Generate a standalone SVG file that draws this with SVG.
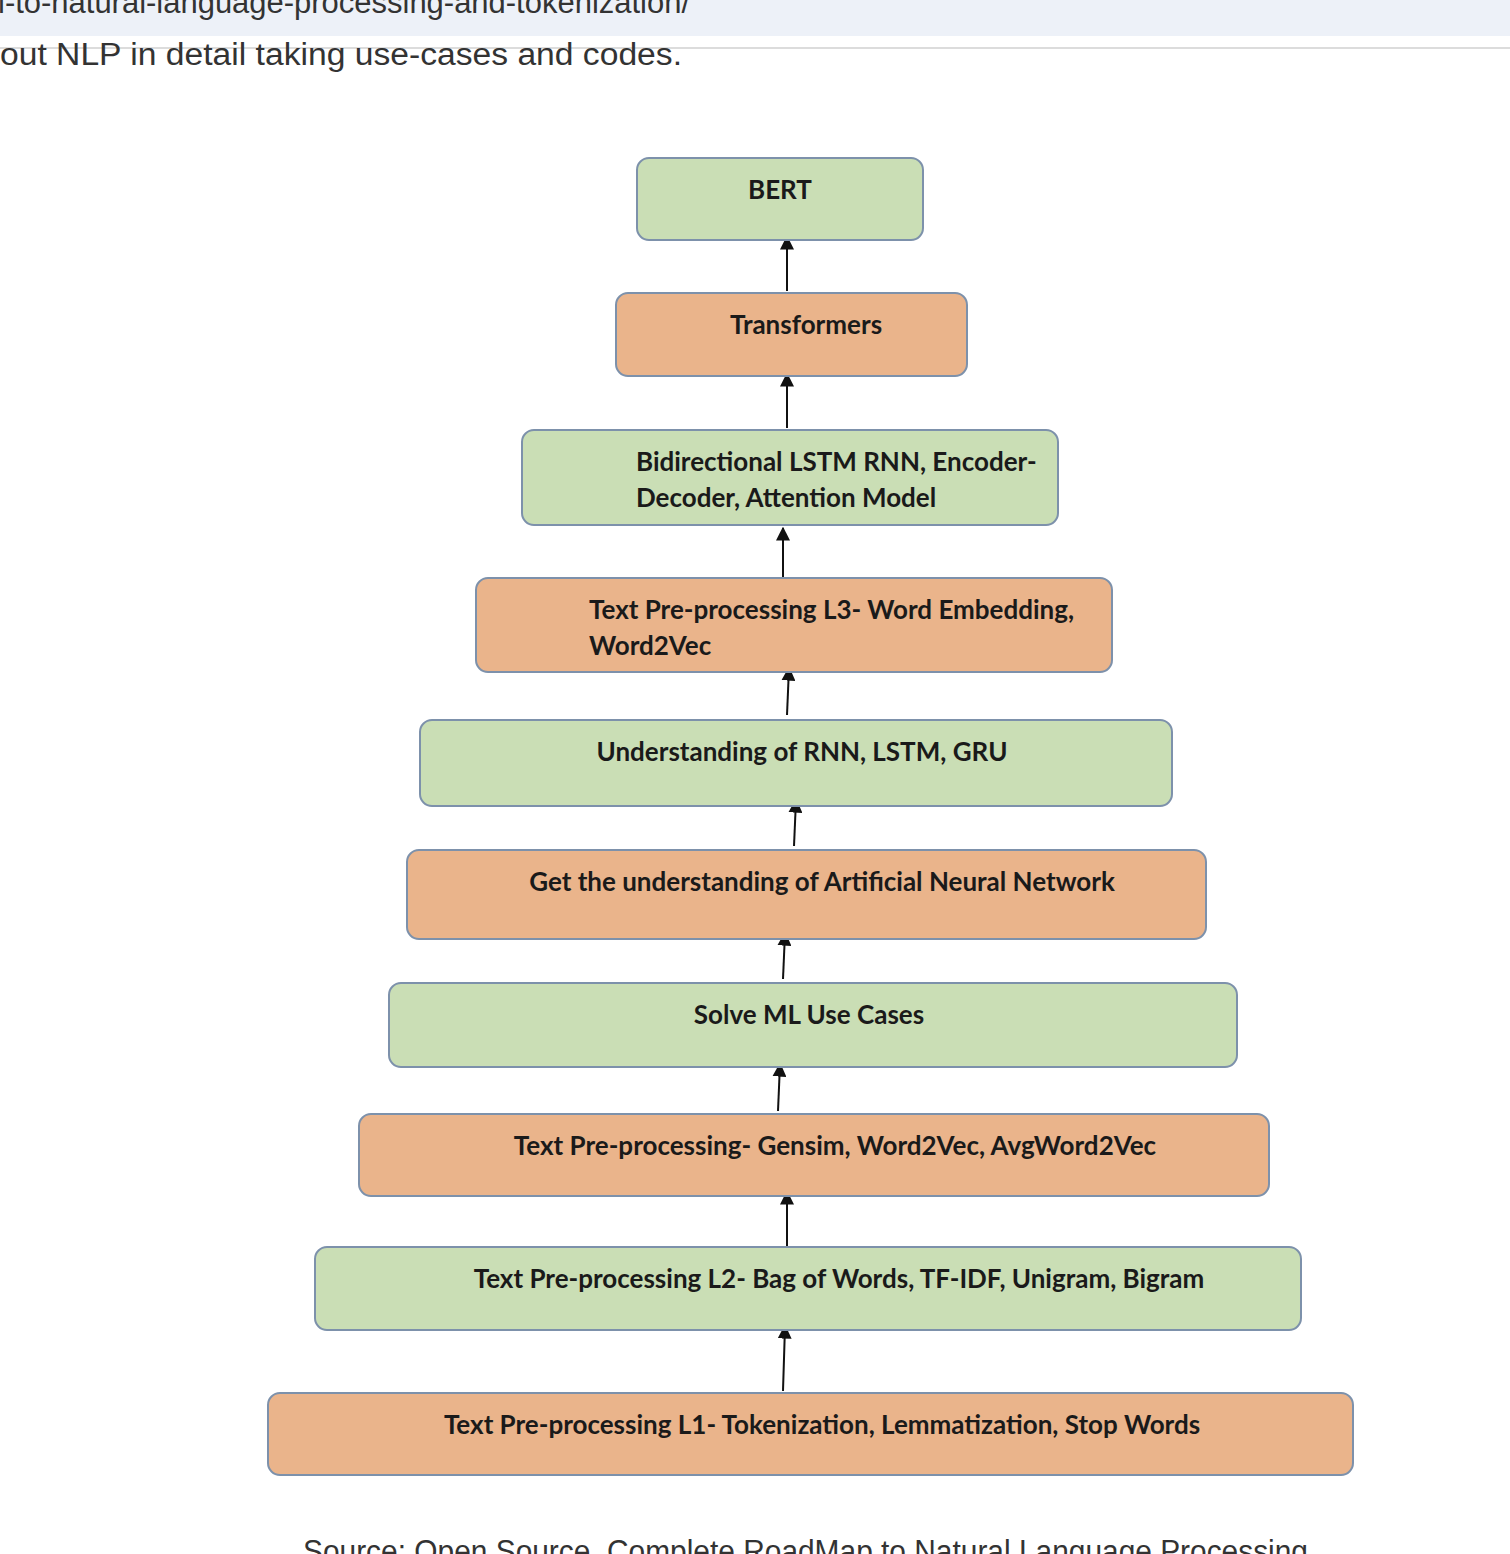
<svg xmlns="http://www.w3.org/2000/svg" width="1510" height="1554" viewBox="0 0 1510 1554">
<defs>
<style>
.g{fill:#cadeb5;stroke:#7d91ab;stroke-width:2}
.o{fill:#eab48b;stroke:#7d91ab;stroke-width:2}
.t{font-family:Lato,"Open Sans",sans-serif;font-weight:700;font-size:26px;fill:#1a1a1a}
.pg{font-family:"Liberation Sans",Arial,sans-serif;font-size:31px;fill:#333}
.c{stroke:#111;stroke-width:2;fill:none;marker-end:url(#ah)}
</style>
<marker id="ah" viewBox="0 0 10 10" refX="9" refY="5" markerWidth="7" markerHeight="7" orient="auto">
<path d="M0,0 L10,5 L0,10 z" fill="#111"/>
</marker>
</defs>
<rect width="1510" height="1554" fill="#ffffff"/>
<g id="page">
<rect x="0" y="0" width="1510" height="36" fill="#edf1f8"/>
<line x1="0" y1="48" x2="1510" y2="48" stroke="#dcdcdc" stroke-width="2"/>
<text class="pg" x="-2" y="13" textLength="692" lengthAdjust="spacingAndGlyphs">l-to-natural-language-processing-and-tokenization/</text>
<text class="pg" x="0" y="65" textLength="682" lengthAdjust="spacingAndGlyphs">out NLP in detail taking use-cases and codes.</text>
<text class="pg" x="303" y="1562" font-size="29" textLength="1005" lengthAdjust="spacingAndGlyphs">Source: Open Source, Complete RoadMap to Natural Language Processing</text>
</g>
<g id="connectors">
<line class="c" x1="787" y1="291" x2="787" y2="237"/>
<line class="c" x1="787" y1="428" x2="787" y2="374"/>
<line class="c" x1="783" y1="579" x2="783" y2="528"/>
<line class="c" x1="787" y1="715" x2="789" y2="668"/>
<line class="c" x1="794" y1="846" x2="796" y2="800"/>
<line class="c" x1="783" y1="979" x2="785" y2="933"/>
<line class="c" x1="778" y1="1111" x2="780" y2="1064"/>
<line class="c" x1="787" y1="1246" x2="787" y2="1192"/>
<line class="c" x1="783" y1="1391" x2="785" y2="1326"/>
</g>
<g id="n1"><rect class="g" x="637" y="158" width="286" height="82" rx="12"/><text class="t" x="780" y="199" text-anchor="middle">BERT</text></g>
<g id="n2"><rect class="o" x="616" y="293" width="351" height="83" rx="12"/><text class="t" x="806" y="334" text-anchor="middle">Transformers</text></g>
<g id="n3"><rect class="g" x="522" y="430" width="536" height="95" rx="12"/><text class="t" x="636" y="471">Bidirectional LSTM RNN, Encoder-</text><text class="t" x="636" y="507">Decoder, Attention Model</text></g>
<g id="n4"><rect class="o" x="476" y="578" width="636" height="94" rx="12"/><text class="t" x="589" y="619">Text Pre-processing L3- Word Embedding,</text><text class="t" x="589" y="655">Word2Vec</text></g>
<g id="n5"><rect class="g" x="420" y="720" width="752" height="86" rx="12"/><text class="t" x="802" y="761" text-anchor="middle">Understanding of RNN, LSTM, GRU</text></g>
<g id="n6"><rect class="o" x="407" y="850" width="799" height="89" rx="12"/><text class="t" x="822" y="891" text-anchor="middle">Get the understanding of Artificial Neural Network</text></g>
<g id="n7"><rect class="g" x="389" y="983" width="848" height="84" rx="12"/><text class="t" x="809" y="1024" text-anchor="middle">Solve ML Use Cases</text></g>
<g id="n8"><rect class="o" x="359" y="1114" width="910" height="82" rx="12"/><text class="t" x="835" y="1155" text-anchor="middle">Text Pre-processing- Gensim, Word2Vec, AvgWord2Vec</text></g>
<g id="n9"><rect class="g" x="315" y="1247" width="986" height="83" rx="12"/><text class="t" x="839" y="1288" text-anchor="middle">Text Pre-processing L2- Bag of Words, TF-IDF, Unigram, Bigram</text></g>
<g id="n10"><rect class="o" x="268" y="1393" width="1085" height="82" rx="12"/><text class="t" x="822" y="1434" text-anchor="middle">Text Pre-processing L1- Tokenization, Lemmatization, Stop Words</text></g>
</svg>
